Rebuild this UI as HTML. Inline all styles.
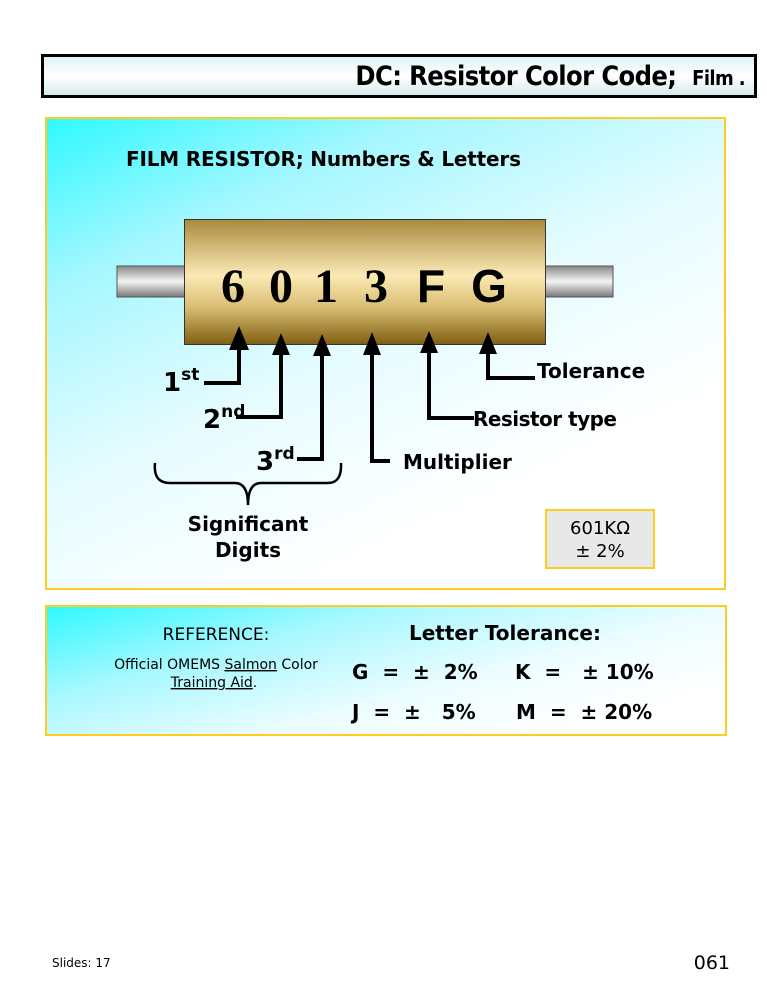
<!DOCTYPE html>
<html><head><meta charset="utf-8"><style>
body{margin:0;width:767px;height:1000px;background:#fff;position:relative;overflow:hidden;font-family:"DejaVu Sans","Liberation Sans",sans-serif}
.a{position:absolute}
</style></head><body>
<div class="a" style="left:41px;top:54px;width:710px;height:38px;border:3px solid #000;background:linear-gradient(180deg,#dff3f5,#ffffff 50%,#d5ecee)"></div>
<div class="a" style="left:300px;top:58px;width:445px;text-align:right;font-family:'DejaVu Sans Condensed','Liberation Sans',sans-serif;font-weight:bold;font-size:27px;line-height:38px;letter-spacing:-0.6px;white-space:nowrap">DC: Resistor Color Code;&nbsp;&nbsp;<span style="font-size:20px">Film .</span></div>

<div class="a" style="left:45px;top:117px;width:677px;height:469px;border:2px solid #ffcc22;background:linear-gradient(155deg,#2ff9ff 0%,#a5f7ff 22%,#e6fcff 48%,#ffffff 75%)"></div>
<div class="a" style="left:45px;top:605px;width:678px;height:127px;border:2px solid #ffcc22;background:linear-gradient(165deg,#2ff9ff 0%,#a8f8ff 30%,#ecfdff 60%,#ffffff 85%)"></div>

<svg class="a" style="left:0;top:0" width="767" height="1000">
<defs>
<linearGradient id="lead" x1="0" y1="0" x2="0" y2="1"><stop offset="0" stop-color="#888"/><stop offset=".5" stop-color="#f4f4f4"/><stop offset="1" stop-color="#777"/></linearGradient>
<linearGradient id="body" x1="0" y1="0" x2="0" y2="1"><stop offset="0" stop-color="#a88a3c"/><stop offset=".45" stop-color="#fbeab5"/><stop offset=".7" stop-color="#d9bd72"/><stop offset="1" stop-color="#7f5f12"/></linearGradient>
</defs>
<rect x="117" y="266" width="68" height="31" fill="url(#lead)" stroke="#555"/>
<rect x="545" y="266" width="68" height="31" fill="url(#lead)" stroke="#555"/>
<rect x="184.5" y="219.5" width="361" height="125" fill="url(#body)" stroke="#333"/>
<g font-family="Liberation Serif,serif" font-weight="bold" font-size="48" text-anchor="middle">
<text x="233" y="302">6</text><text x="281" y="302">0</text><text x="326" y="302">1</text><text x="376" y="302">3</text></g>
<g font-family="Liberation Sans,sans-serif" font-weight="bold" font-size="46" text-anchor="middle">
<text x="431" y="302">F</text><text x="489" y="302">G</text></g>
<g fill="none" stroke="#000" stroke-width="4">
<polyline points="239,340 239,383 204,383"/>
<polyline points="281,340 281,417 236,417"/>
<polyline points="322,340 322,459 297,459"/>
<polyline points="372,340 372,461 390,461"/>
<polyline points="429,340 429,418 474,418"/>
<polyline points="488,340 488,378 535,378"/>
</g>
<g fill="#000">
<polygon points="239,326 229,350 249,350"/>
<polygon points="281,333 272,355 290,355"/>
<polygon points="322,334 313,356 331,356"/>
<polygon points="372,332 363,355 381,355"/>
<polygon points="429,331 420,353 438,353"/>
<polygon points="488,332 479,354 497,354"/>
</g>
<path d="M155,463 Q153,483 170,483 L235,483 Q248,483 248,505 Q248,483 261,483 L328,483 Q342,483 341,463" fill="none" stroke="#000" stroke-width="2.5"/>
<g font-weight="bold" font-size="20">
<text x="163" y="391" font-size="26">1<tspan font-size="17" dy="-11">st</tspan></text>
<text x="203" y="428" font-size="26">2<tspan font-size="17" dy="-11">nd</tspan></text>
<text x="256" y="470" font-size="26">3<tspan font-size="17" dy="-11">rd</tspan></text>
<text x="537" y="378">Tolerance</text>
<text x="473" y="426" textLength="144">Resistor type</text>
<text x="403" y="469">Multiplier</text>
<text x="248" y="531" text-anchor="middle">Significant</text>
<text x="248" y="557" text-anchor="middle">Digits</text>
<text x="126" y="166" font-size="20" textLength="395">FILM RESISTOR; Numbers &amp; Letters</text>
</g>
<rect x="546" y="510" width="108" height="58" fill="#e8e8e8" stroke="#ffcc22" stroke-width="2"/>
<g font-size="18" text-anchor="middle" font-family="DejaVu Sans,sans-serif"><text x="600" y="534">601KΩ</text><text x="600" y="557">± 2%</text></g>
<g font-family="DejaVu Sans,sans-serif" text-anchor="middle">
<text x="216" y="640" font-size="17">REFERENCE:</text>
<text x="216" y="669" font-size="14">Official OMEMS <tspan text-decoration="underline">Salmon</tspan> Color</text>
<text x="214" y="687" font-size="14"><tspan text-decoration="underline">Training Aid</tspan>.</text>
</g>
<g font-weight="bold" font-size="20">
<text x="505" y="640" text-anchor="middle">Letter Tolerance:</text>
<text x="352" y="679" xml:space="preserve">G  =  ±  2%</text>
<text x="515" y="679" xml:space="preserve">K  =   ± 10%</text>
<text x="352" y="719" xml:space="preserve">J  =  ±   5%</text>
<text x="516" y="719" xml:space="preserve">M  =  ± 20%</text>
</g>
<text x="52" y="967" font-size="12" font-family="DejaVu Sans,sans-serif">Slides: 17</text>
<text x="730" y="969" font-size="19" text-anchor="end" font-family="DejaVu Sans,sans-serif">061</text>
</svg>
</body></html>
